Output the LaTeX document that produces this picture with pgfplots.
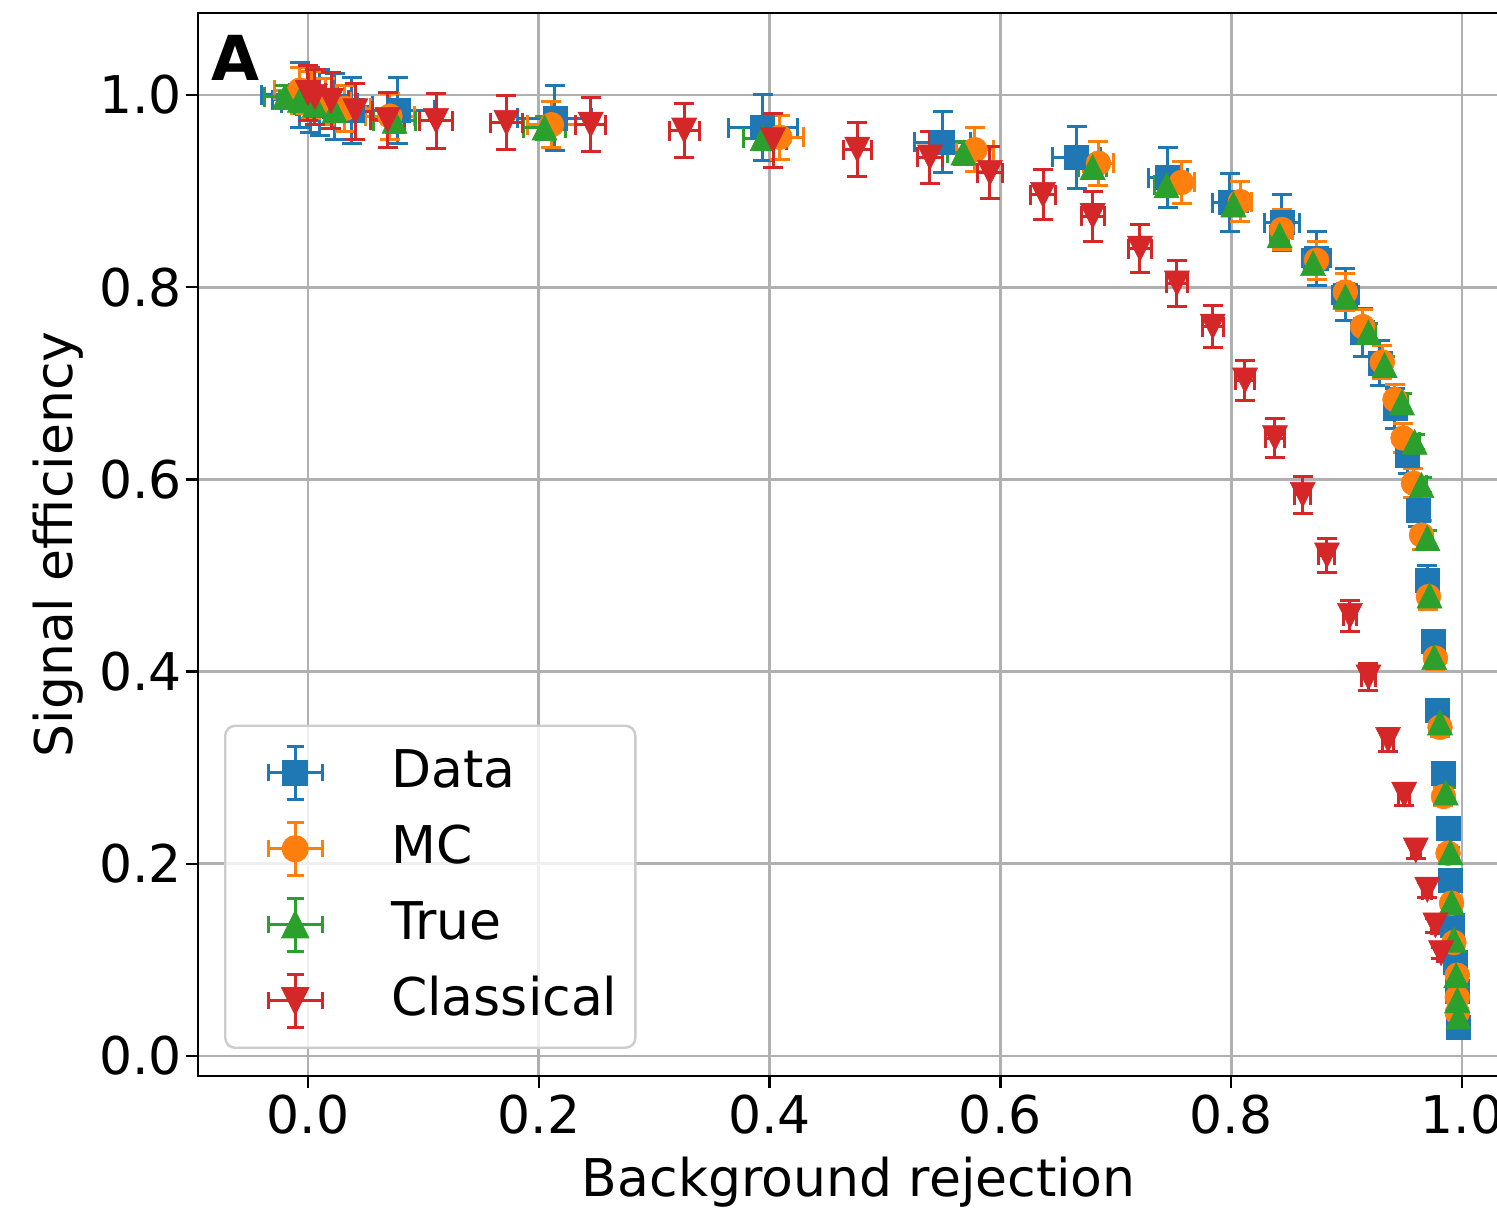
\documentclass[border=0pt]{standalone}
\usepackage{pgfplots}
\usepackage{pgfplotstable}
\pgfplotsset{compat=1.18}
\usepackage{fontspec}
\setmainfont{DejaVu Sans}
\definecolor{tabblue}{HTML}{1F77B4}
\definecolor{taborange}{HTML}{FF7F0E}
\definecolor{tabgreen}{HTML}{2CA02C}
\definecolor{tabred}{HTML}{D62728}
\definecolor{gridgray}{HTML}{B0B0B0}

\pgfdeclareplotmark{mtri}{%
  \pgfpathmoveto{\pgfqpoint{0pt}{\pgfplotmarksize}}%
  \pgfpathlineto{\pgfqpoint{-\pgfplotmarksize}{-\pgfplotmarksize}}%
  \pgfpathlineto{\pgfqpoint{\pgfplotmarksize}{-\pgfplotmarksize}}%
  \pgfpathclose\pgfusepathqfillstroke}
\pgfdeclareplotmark{mtridown}{%
  \pgfpathmoveto{\pgfqpoint{0pt}{-\pgfplotmarksize}}%
  \pgfpathlineto{\pgfqpoint{-\pgfplotmarksize}{\pgfplotmarksize}}%
  \pgfpathlineto{\pgfqpoint{\pgfplotmarksize}{\pgfplotmarksize}}%
  \pgfpathclose\pgfusepathqfillstroke}

\pgfplotstableread{
x y ex ey
-0.007 1.000 0.033 0.034
0.002 0.995 0.033 0.034
0.010 0.992 0.033 0.034
0.023 0.988 0.033 0.034
0.038 0.984 0.032 0.034
0.078 0.984 0.032 0.034
0.214 0.976 0.032 0.034
0.394 0.966 0.030 0.034
0.550 0.951 0.024 0.032
0.666 0.935 0.021 0.032
0.745 0.914 0.017 0.031
0.799 0.888 0.015 0.030
0.844 0.867 0.015 0.029
0.874 0.830 0.012 0.028
0.899 0.792 0.011 0.027
0.914 0.753 0.010 0.025
0.929 0.721 0.009 0.023
0.942 0.674 0.008 0.021
0.953 0.625 0.007 0.019
0.962 0.568 0.006 0.017
0.970 0.495 0.005 0.015
0.975 0.431 0.005 0.012
0.979 0.360 0.004 0.010
0.984 0.294 0.004 0.008
0.988 0.237 0.003 0.007
0.990 0.183 0.003 0.006
0.992 0.136 0.002 0.005
0.994 0.098 0.002 0.004
0.996 0.067 0.002 0.003
0.997 0.030 0.001 0.002
}\datatab

\pgfplotstableread{
x y ex ey
-0.007 1.005 0.022 0.024
0.003 1.000 0.022 0.024
0.015 0.993 0.022 0.024
0.032 0.986 0.022 0.024
0.071 0.978 0.021 0.024
0.211 0.969 0.021 0.024
0.409 0.956 0.020 0.023
0.578 0.943 0.016 0.023
0.685 0.929 0.013 0.023
0.757 0.909 0.011 0.022
0.808 0.889 0.010 0.021
0.844 0.860 0.009 0.021
0.874 0.828 0.008 0.020
0.899 0.795 0.007 0.019
0.914 0.759 0.007 0.018
0.931 0.722 0.006 0.017
0.942 0.683 0.005 0.016
0.949 0.643 0.005 0.015
0.958 0.596 0.004 0.015
0.965 0.542 0.004 0.015
0.971 0.478 0.003 0.013
0.977 0.414 0.003 0.012
0.981 0.342 0.003 0.010
0.984 0.270 0.002 0.009
0.988 0.211 0.002 0.008
0.991 0.159 0.002 0.007
0.993 0.118 0.001 0.006
0.996 0.084 0.001 0.005
0.996 0.061 0.001 0.004
0.996 0.045 0.001 0.003
}\mctab

\pgfplotstableread{
x y ex ey
-0.020 0.998 0.018 0.012
-0.007 0.995 0.018 0.012
0.006 0.990 0.018 0.012
0.023 0.984 0.018 0.012
0.075 0.973 0.018 0.012
0.205 0.966 0.018 0.012
0.394 0.955 0.017 0.012
0.568 0.940 0.014 0.012
0.680 0.925 0.012 0.011
0.744 0.906 0.010 0.011
0.802 0.886 0.009 0.011
0.842 0.854 0.008 0.010
0.871 0.825 0.007 0.010
0.899 0.790 0.006 0.010
0.919 0.753 0.006 0.009
0.933 0.719 0.005 0.009
0.948 0.680 0.005 0.009
0.959 0.639 0.004 0.008
0.965 0.594 0.004 0.008
0.970 0.539 0.003 0.008
0.972 0.479 0.003 0.007
0.976 0.415 0.003 0.007
0.981 0.347 0.002 0.006
0.986 0.274 0.002 0.005
0.990 0.212 0.002 0.005
0.991 0.160 0.001 0.004
0.993 0.121 0.001 0.004
0.995 0.084 0.001 0.003
0.996 0.058 0.001 0.002
0.997 0.041 0.001 0.002
}\truetab

\pgfplotstableread{
x y ex ey
0.000 1.002 0.015 0.029
0.006 0.998 0.015 0.029
0.020 0.994 0.015 0.029
0.041 0.983 0.015 0.029
0.069 0.974 0.015 0.029
0.111 0.973 0.014 0.029
0.172 0.971 0.014 0.028
0.245 0.969 0.013 0.028
0.326 0.963 0.013 0.028
0.403 0.953 0.012 0.028
0.476 0.943 0.012 0.028
0.539 0.935 0.011 0.027
0.591 0.919 0.011 0.027
0.637 0.896 0.011 0.026
0.680 0.874 0.010 0.026
0.721 0.840 0.010 0.025
0.753 0.804 0.009 0.024
0.784 0.759 0.009 0.022
0.812 0.703 0.008 0.021
0.838 0.643 0.008 0.020
0.862 0.584 0.007 0.019
0.883 0.521 0.007 0.018
0.903 0.458 0.006 0.016
0.919 0.394 0.006 0.014
0.936 0.329 0.005 0.012
0.950 0.272 0.005 0.011
0.960 0.214 0.004 0.009
0.970 0.173 0.004 0.008
0.977 0.136 0.003 0.007
0.982 0.107 0.003 0.006
}\classtab

\pgfplotsset{
  errleg/.style={legend image code/.code={%
    \path[draw=none,fill=none] (-29pt,0pt) -- (45pt,0pt);
    \draw[line width=1.5pt,opacity=1,#1] (-13.5pt,0pt) -- (13.5pt,0pt);
    \draw[line width=1.5pt,opacity=1,#1] (-13.5pt,-4.25pt) -- (-13.5pt,4.25pt);
    \draw[line width=1.5pt,opacity=1,#1] (13.5pt,-4.25pt) -- (13.5pt,4.25pt);
    \draw[line width=1.5pt,opacity=1,#1] (0pt,-13.25pt) -- (0pt,13.25pt);
    \draw[line width=1.5pt,opacity=1,#1] (-4.25pt,-13.25pt) -- (4.25pt,-13.25pt);
    \draw[line width=1.5pt,opacity=1,#1] (-4.25pt,13.25pt) -- (4.25pt,13.25pt);
    \path[#1, mark options={opacity=1}] plot coordinates {(0pt,0pt)};
  }},
  eb/.style={error bars/.cd, x dir=both, x explicit, y dir=both, y explicit,
    error bar style={line width=1.5pt},
    error mark options={rotate=90, line width=1.5pt, mark size=5pt}},
}

\begin{document}
\begin{tikzpicture}
\begin{axis}[
  scale only axis,
  width=660.8pt, height=531.5pt,
  xmin=-0.0953, xmax=1.05, ymin=-0.0208, ymax=1.0853,
  xtick={0,0.2,0.4,0.6,0.8,1.0},
  ytick={0,0.2,0.4,0.6,0.8,1.0},
  xtick pos=bottom, ytick pos=left,
  tick align=outside, major tick length=6pt,
  tick style={line width=1.25pt, black},
  axis line style={line width=1.25pt, black},
  grid=major,
  major grid style={line width=1.4pt, color=gridgray},
  /pgf/number format/assume math mode=true,
  /pgf/number format/.cd, fixed, fixed zerofill, precision=1, /pgfplots/.cd,
  tick label style={font=\fontsize{26}{31}\selectfont},
  yticklabel style={xshift=1.5pt},
  xlabel={Background rejection},
  ylabel={Signal efficiency},
  every axis x label/.style={at={(rel axis cs:0.5,-0.1129)}, anchor=base,
    font=\fontsize{26}{31}\selectfont},
  every axis y label/.style={at={(rel axis cs:-0.1059,0.5)}, anchor=center, rotate=90,
    font=\fontsize{26}{31}\selectfont},
  legend style={at={(rel axis cs:0.0197,0.0254)}, anchor=south west,
    font=\fontsize{26}{31}\selectfont,
    draw=black!20, line width=1.2pt, rounded corners=5pt,
    fill=white, fill opacity=0.8, text opacity=1,
    inner xsep=6pt, inner ysep=8pt,
    row sep=7pt, column sep=0pt,
    nodes={inner sep=3pt, text height=20pt, text depth=5pt},
  },
  legend cell align=left,
]
\addplot[only marks, color=tabblue, mark=square*, mark size=6pt,
  mark options={solid, line width=0.3pt}, errleg, eb]
  table[x=x, y=y, x error=ex, y error=ey] {\datatab};
\addlegendentry{Data}
\addplot[only marks, color=taborange, mark=*, mark size=6.2pt,
  mark options={solid, line width=0.3pt}, errleg, eb]
  table[x=x, y=y, x error=ex, y error=ey] {\mctab};
\addlegendentry{MC}
\addplot[only marks, color=tabgreen, mark=mtri, mark size=6.25pt,
  mark options={solid, line width=0.3pt}, errleg, eb]
  table[x=x, y=y, x error=ex, y error=ey] {\truetab};
\addlegendentry{True}
\addplot[only marks, color=tabred, mark=mtridown, mark size=6.25pt,
  mark options={solid, line width=0.3pt}, errleg, eb]
  table[x=x, y=y, x error=ex, y error=ey] {\classtab};
\addlegendentry{Classical}
\node[font=\bfseries\fontsize{31}{36}\selectfont, inner sep=0pt, anchor=center]
  at (rel axis cs:0.028,0.9577) {A};
\end{axis}
\pgfresetboundingbox
\useasboundingbox (-99pt,-66pt) rectangle (649.5pt,538pt);
\end{tikzpicture}
\end{document}
